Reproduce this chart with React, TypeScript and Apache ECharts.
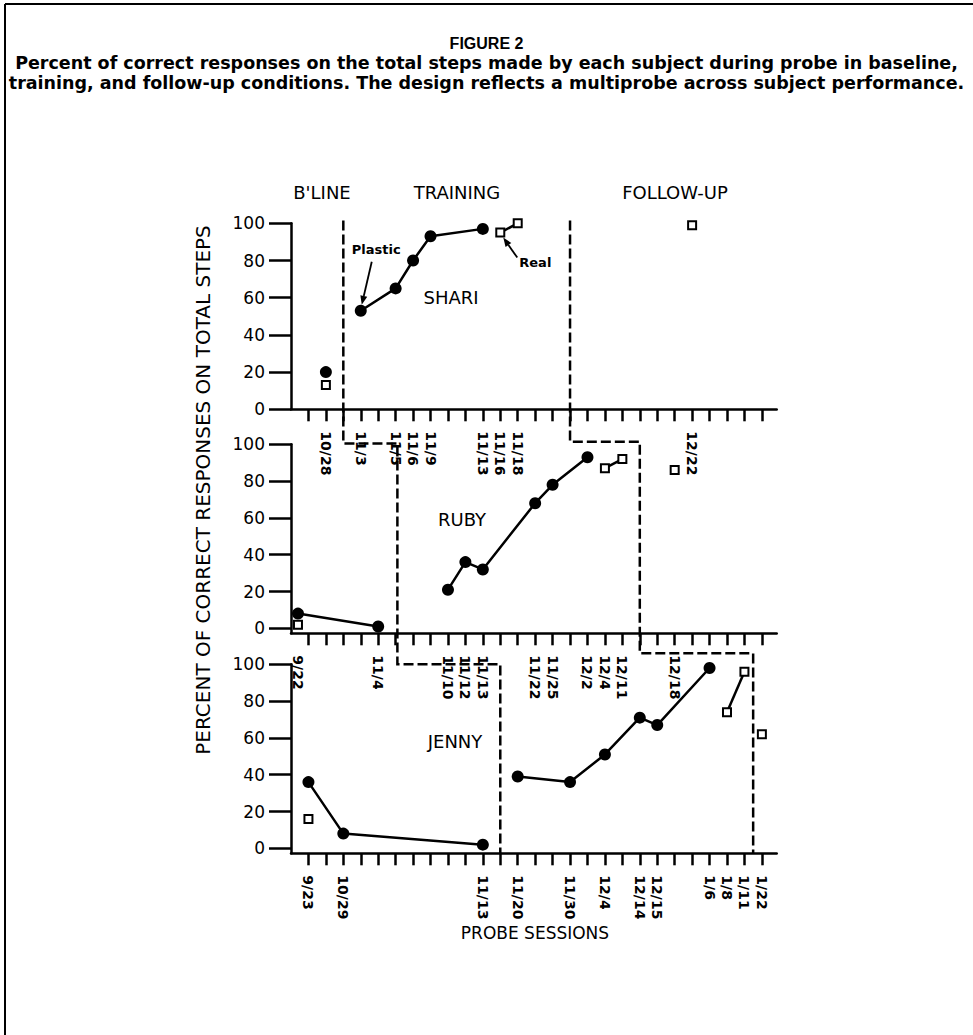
import React, { useEffect, useRef } from "react";
import * as echarts from "echarts";

// ---------- DATA ----------
// x = probe-session slot on the shared session axis, y = percent correct
const shariPlasticBase = [[2, 20]];
const shariPlasticTrain = [[4, 53], [6, 65], [7, 80], [8, 93], [11, 97]];
const shariRealBase = [[2, 13]];
const shariRealTrain = [[12, 95], [13, 100]];
const shariRealFollow = [[23, 99]];

const rubyPlasticBase = [[0.4, 8], [5, 1]];
const rubyPlasticTrain = [[9, 21], [10, 36], [11, 32], [14, 68], [15, 78], [17, 93]];
const rubyRealBase = [[0.4, 2]];
const rubyRealTrain = [[18, 87], [19, 92]];
const rubyRealFollow = [[22, 86]];

const jennyPlasticBase = [[1, 36], [3, 8], [11, 2]];
const jennyPlasticTrain = [[13, 39], [16, 36], [18, 51], [20, 71], [21, 67], [24, 98]];
const jennyRealBase = [[1, 16]];
const jennyRealTrain = [[25, 74], [26, 96]];
const jennyRealFollow = [[27, 62]];

// date labels under each panel
const shariDatePos = [2, 4, 6, 7, 8, 11, 12, 13, 23];
const shariDates = ["10/28", "11/3", "11/5", "11/6", "11/9", "11/13", "11/16", "11/18", "12/22"];
const rubyDatePos = [0.4, 5, 9, 10, 11, 14, 15, 17, 18, 19, 22];
const rubyDates = ["9/22", "11/4", "11/10", "11/12", "11/13", "11/22", "11/25", "12/2", "12/4", "12/11", "12/18"];
const jennyDatePos = [1, 3, 11, 13, 16, 18, 20, 21, 24, 25, 26, 27];
const jennyDates = ["9/23", "10/29", "11/13", "11/20", "11/30", "12/4", "12/14", "12/15", "1/6", "1/8", "1/11", "1/22"];

const sessionTicks = Array.from({ length: 27 }, (_, i) => i + 1);
const yTicks = [0, 20, 40, 60, 80, 100];

const subjects = ["SHARI", "RUBY", "JENNY"];
const phases = ["B'LINE", "TRAINING", "FOLLOW-UP"];

// phase-change lines: [x in top panel, connector y (mid), x in mid, connector y (bottom), x in bottom]
const phaseLine1 = [3, 100.5, 6.1, 100, 12];
const phaseLine2 = [16, 101.4, 20, 106, 26.5];

// ---------- LAYOUT ----------
const X_MAX = 27.85;
const GRID_LEFT = 291;
const GRID_WIDTH = 485.7;
const panelGrids = [
  { top: 223.3, height: 186, yMin: 0 },
  { top: 444.3, height: 189, yMin: -2.7 },
  { top: 664.3, height: 189, yMin: -2.7 },
];
const GOTHIC = "'DejaVu Sans', sans-serif";
const HELV = "'Liberation Sans', Arial, sans-serif";

function plasticSeries(data: number[][], gi: number) {
  return {
    type: "line",
    xAxisIndex: gi,
    yAxisIndex: gi,
    data,
    symbol: "circle",
    symbolSize: 12,
    itemStyle: { color: "#000" },
    lineStyle: { color: "#000", width: 2.5 },
    z: 3,
  };
}
function realSeries(data: number[][], gi: number) {
  return {
    type: "line",
    xAxisIndex: gi,
    yAxisIndex: gi,
    data,
    symbol: "rect",
    symbolSize: 8,
    itemStyle: { color: "#fff", borderColor: "#000", borderWidth: 2 },
    lineStyle: { color: "#000", width: 2.5 },
    z: 4,
  };
}

function makeXAxis(gi: number, pos: number[], labels: string[]) {
  return {
    type: "value",
    gridIndex: gi,
    min: 0,
    max: X_MAX,
    axisLine: { show: true, onZero: false, lineStyle: { color: "#000", width: 2.5 } },
    axisTick: { show: true, customValues: sessionTicks, length: 12, lineStyle: { color: "#000", width: 2.5 } },
    axisLabel: {
      show: true,
      customValues: pos,
      rotate: -90,
      margin: 22,
      fontFamily: GOTHIC,
      fontSize: 14,
      fontWeight: "bold",
      color: "#000",
      formatter: (v: number) => {
        const i = pos.findIndex((p) => Math.abs(p - v) < 0.01);
        return i >= 0 ? labels[i] : "";
      },
    },
    splitLine: { show: false },
  };
}
function makeYAxis(gi: number, yMin: number) {
  return {
    type: "value",
    gridIndex: gi,
    min: yMin,
    max: 100,
    axisLine: { show: true, lineStyle: { color: "#000", width: 2.5 } },
    axisTick: { show: true, customValues: yTicks, length: 22, lineStyle: { color: "#000", width: 2.5 } },
    axisLabel: { show: true, customValues: yTicks, margin: 26, fontFamily: GOTHIC, fontSize: 17, color: "#000" },
    splitLine: { show: false },
  };
}

export default function App() {
  const ref = useRef<HTMLDivElement>(null);
  useEffect(() => {
    if (!ref.current) return;
    const chart = echarts.init(ref.current, null, { renderer: "svg" });
    const option: any = {
      animation: false,
      backgroundColor: "#fff",
      grid: panelGrids.map((g) => ({
        left: GRID_LEFT,
        top: g.top,
        width: GRID_WIDTH,
        height: g.height,
        outerBoundsMode: "none",
      })),
      xAxis: [
        makeXAxis(0, shariDatePos, shariDates),
        makeXAxis(1, rubyDatePos, rubyDates),
        makeXAxis(2, jennyDatePos, jennyDates),
      ],
      yAxis: panelGrids.map((g, i) => makeYAxis(i, g.yMin)),
      series: [
        plasticSeries(shariPlasticBase, 0),
        plasticSeries(shariPlasticTrain, 0),
        realSeries(shariRealBase, 0),
        realSeries(shariRealTrain, 0),
        realSeries(shariRealFollow, 0),
        plasticSeries(rubyPlasticBase, 1),
        plasticSeries(rubyPlasticTrain, 1),
        realSeries(rubyRealBase, 1),
        realSeries(rubyRealTrain, 1),
        realSeries(rubyRealFollow, 1),
        plasticSeries(jennyPlasticBase, 2),
        plasticSeries(jennyPlasticTrain, 2),
        realSeries(jennyRealBase, 2),
        realSeries(jennyRealTrain, 2),
        realSeries(jennyRealFollow, 2),
      ],
    };
    chart.setOption(option);

    const px = (gi: number, x: number, y: number) =>
      chart.convertToPixel({ gridIndex: gi } as any, [x, y]) as number[];

    const phasePoints = (pl: number[]) => [
      px(0, pl[0], 101.5),
      px(1, pl[0], pl[1]),
      px(1, pl[2], pl[1]),
      px(2, pl[2], pl[3]),
      px(2, pl[4], pl[3]),
      px(2, pl[4], -2.7),
    ];

    const arrow = (from: number[], to: number[]) => {
      const dx = to[0] - from[0];
      const dy = to[1] - from[1];
      const len = Math.hypot(dx, dy);
      const ux = dx / len, uy = dy / len;
      const L = 9, W = 3.5;
      const bx = to[0] - ux * L, by = to[1] - uy * L;
      return [
        { type: "line", shape: { x1: from[0], y1: from[1], x2: bx, y2: by }, style: { stroke: "#000", lineWidth: 1.8 } },
        {
          type: "polygon",
          shape: { points: [to, [bx - uy * W, by + ux * W], [bx + uy * W, by - ux * W]] },
          style: { fill: "#000" },
        },
      ];
    };

    const plasticPt = px(0, shariPlasticTrain[0][0], shariPlasticTrain[0][1]);
    const realPt = px(0, shariRealTrain[0][0], shariRealTrain[0][1]);

    const headerY = 192;
    const graphic: any[] = [
      // frame
      { type: "line", shape: { x1: 5, y1: 4, x2: 973, y2: 4 }, style: { stroke: "#000", lineWidth: 2 } },
      { type: "line", shape: { x1: 5, y1: 4, x2: 5, y2: 1035 }, style: { stroke: "#000", lineWidth: 2 } },
      // captions
      {
        type: "text", x: 486.5, y: 43,
        style: { text: "FIGURE 2", fontFamily: HELV, fontWeight: "bold", fontSize: 16, fill: "#000", align: "center", verticalAlign: "middle" },
      },
      {
        type: "text", x: 486.5, y: 63,
        style: {
          text: "Percent of correct responses on the total steps made by each subject during probe in baseline,",
          fontFamily: GOTHIC, fontWeight: "bold", fontSize: 17.5, fill: "#000", align: "center", verticalAlign: "middle",
        },
      },
      {
        type: "text", x: 486.5, y: 83,
        style: {
          text: "training, and follow-up conditions. The design reflects a multiprobe across subject performance.",
          fontFamily: GOTHIC, fontWeight: "bold", fontSize: 17.5, fill: "#000", align: "center", verticalAlign: "middle",
        },
      },
      // phase headers
      ...[322, 457, 675].map((x, i) => ({
        type: "text", x, y: headerY,
        style: { text: phases[i], fontFamily: GOTHIC, fontSize: 18, fill: "#000", align: "center", verticalAlign: "middle" },
      })),
      // subject names
      ...[[451, 297], [462, 519], [455, 741]].map((p, i) => ({
        type: "text", x: p[0], y: p[1],
        style: { text: subjects[i], fontFamily: GOTHIC, fontSize: 18, fill: "#000", align: "center", verticalAlign: "middle" },
      })),
      // axis titles
      {
        type: "text", x: 203, y: 490, rotation: Math.PI / 2,
        style: {
          text: "PERCENT OF CORRECT RESPONSES ON TOTAL STEPS",
          fontFamily: GOTHIC, fontSize: 20, fill: "#000", align: "center", verticalAlign: "middle",
        },
      },
      {
        type: "text", x: 535, y: 933,
        style: { text: "PROBE SESSIONS", fontFamily: GOTHIC, fontSize: 17, fill: "#000", align: "center", verticalAlign: "middle" },
      },
      // annotations
      {
        type: "text", x: plasticPt[0] - 9, y: plasticPt[1] - 61,
        style: { text: "Plastic", fontFamily: GOTHIC, fontWeight: "bold", fontSize: 13, fill: "#000", align: "left", verticalAlign: "middle" },
      },
      ...arrow([plasticPt[0] + 11, plasticPt[1] - 49], [plasticPt[0] + 1, plasticPt[1] - 6]),
      {
        type: "text", x: realPt[0] + 19, y: realPt[1] + 30,
        style: { text: "Real", fontFamily: GOTHIC, fontWeight: "bold", fontSize: 13, fill: "#000", align: "left", verticalAlign: "middle" },
      },
      ...arrow([realPt[0] + 17, realPt[1] + 25], [realPt[0] + 3, realPt[1] + 5]),
      // phase change lines
      ...[phaseLine1, phaseLine2].map((pl) => ({
        type: "polyline",
        shape: { points: phasePoints(pl) },
        style: { stroke: "#000", lineWidth: 2.5, lineDash: [10, 4], fill: null },
        z: 10,
      })),
    ];
    chart.setOption({ graphic });

    return () => chart.dispose();
  }, []);
  return (
    <div
      ref={ref}
      style={{ position: "absolute", left: 0, top: 0, width: 973, height: 1035 }}
    />
  );
}
